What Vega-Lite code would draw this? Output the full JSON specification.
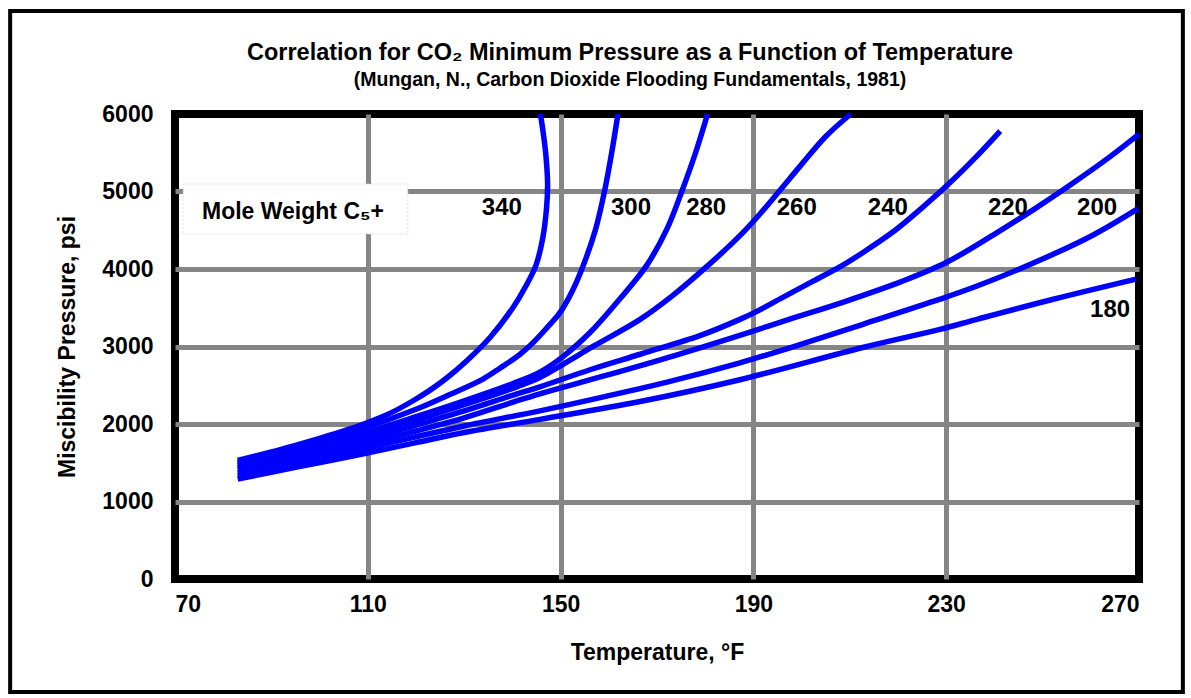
{
  "$schema": "https://vega.github.io/schema/vega-lite/v6.json",
  "width": 964,
  "height": 465,
  "autosize": "none",
  "padding": {"left": 175, "top": 114, "right": 52, "bottom": 119},
  "background": "white",
  "config": {
    "view": {"stroke": "black", "strokeWidth": 8},
    "font": "Liberation Sans, sans-serif"
  },
  "title": {
    "text": "Correlation for CO₂ Minimum Pressure as a Function of Temperature",
    "subtitle": "(Mungan, N., Carbon Dioxide Flooding Fundamentals, 1981)",
    "font": "Liberation Sans, sans-serif",
    "subtitleFont": "Liberation Sans, sans-serif",
    "fontSize": 23.5,
    "subtitleFontSize": 19.5,
    "fontWeight": "bold",
    "subtitleFontWeight": "bold",
    "color": "black",
    "subtitleColor": "black",
    "anchor": "middle",
    "dx": -27,
    "offset": -80,
    "subtitlePadding": 6
  },
  "datasets": {
    "curves": [
      {"mw": "340", "i": 1, "T": 83, "P": 1530}, {"mw": "340", "i": 2, "T": 90, "P": 1640}, {"mw": "340", "i": 3, "T": 95, "P": 1725}, {"mw": "340", "i": 4, "T": 100, "P": 1815}, {"mw": "340", "i": 5, "T": 105, "P": 1910}, {"mw": "340", "i": 6, "T": 110, "P": 2020}, {"mw": "340", "i": 7, "T": 115, "P": 2150}, {"mw": "340", "i": 8, "T": 119.4, "P": 2300}, {"mw": "340", "i": 9, "T": 123, "P": 2440}, {"mw": "340", "i": 10, "T": 126.5, "P": 2600}, {"mw": "340", "i": 11, "T": 130.6, "P": 2820}, {"mw": "340", "i": 12, "T": 135.4, "P": 3120}, {"mw": "340", "i": 13, "T": 140.1, "P": 3500}, {"mw": "340", "i": 14, "T": 142.8, "P": 3780}, {"mw": "340", "i": 15, "T": 144.9, "P": 4050}, {"mw": "340", "i": 16, "T": 146.3, "P": 4400}, {"mw": "340", "i": 17, "T": 147.1, "P": 4800}, {"mw": "340", "i": 18, "T": 147.3, "P": 5100}, {"mw": "340", "i": 19, "T": 146.9, "P": 5500}, {"mw": "340", "i": 20, "T": 146.3, "P": 5800}, {"mw": "340", "i": 21, "T": 145.8, "P": 6000},
      {"mw": "300", "i": 1, "T": 83, "P": 1500}, {"mw": "300", "i": 2, "T": 95, "P": 1690}, {"mw": "300", "i": 3, "T": 110, "P": 1965}, {"mw": "300", "i": 4, "T": 120, "P": 2190}, {"mw": "300", "i": 5, "T": 127, "P": 2380}, {"mw": "300", "i": 6, "T": 133.9, "P": 2580}, {"mw": "300", "i": 7, "T": 137.4, "P": 2720}, {"mw": "300", "i": 8, "T": 141.6, "P": 2900}, {"mw": "300", "i": 9, "T": 144.3, "P": 3050}, {"mw": "300", "i": 10, "T": 147, "P": 3230}, {"mw": "300", "i": 11, "T": 149.9, "P": 3440}, {"mw": "300", "i": 12, "T": 152.3, "P": 3700}, {"mw": "300", "i": 13, "T": 154.6, "P": 4030}, {"mw": "300", "i": 14, "T": 157.2, "P": 4500}, {"mw": "300", "i": 15, "T": 159.1, "P": 5000}, {"mw": "300", "i": 16, "T": 160.6, "P": 5500}, {"mw": "300", "i": 17, "T": 161.9, "P": 6000},
      {"mw": "280", "i": 1, "T": 83, "P": 1470}, {"mw": "280", "i": 2, "T": 95, "P": 1650}, {"mw": "280", "i": 3, "T": 110, "P": 1900}, {"mw": "280", "i": 4, "T": 120, "P": 2095}, {"mw": "280", "i": 5, "T": 130, "P": 2300}, {"mw": "280", "i": 6, "T": 140, "P": 2520}, {"mw": "280", "i": 7, "T": 145.7, "P": 2670}, {"mw": "280", "i": 8, "T": 150.5, "P": 2870}, {"mw": "280", "i": 9, "T": 156.1, "P": 3180}, {"mw": "280", "i": 10, "T": 161.7, "P": 3570}, {"mw": "280", "i": 11, "T": 164.8, "P": 3800}, {"mw": "280", "i": 12, "T": 167.9, "P": 4050}, {"mw": "280", "i": 13, "T": 172.1, "P": 4520}, {"mw": "280", "i": 14, "T": 175.2, "P": 5010}, {"mw": "280", "i": 15, "T": 178, "P": 5500}, {"mw": "280", "i": 16, "T": 180.5, "P": 6000},
      {"mw": "260", "i": 1, "T": 83, "P": 1440}, {"mw": "260", "i": 2, "T": 95, "P": 1610}, {"mw": "260", "i": 3, "T": 110, "P": 1855}, {"mw": "260", "i": 4, "T": 120, "P": 2050}, {"mw": "260", "i": 5, "T": 130, "P": 2250}, {"mw": "260", "i": 6, "T": 140, "P": 2460}, {"mw": "260", "i": 7, "T": 145.7, "P": 2600}, {"mw": "260", "i": 8, "T": 150.5, "P": 2770}, {"mw": "260", "i": 9, "T": 157, "P": 3010}, {"mw": "260", "i": 10, "T": 166.5, "P": 3350}, {"mw": "260", "i": 11, "T": 173.3, "P": 3660}, {"mw": "260", "i": 12, "T": 180.3, "P": 4030}, {"mw": "260", "i": 13, "T": 187.2, "P": 4430}, {"mw": "260", "i": 14, "T": 191.5, "P": 4720}, {"mw": "260", "i": 15, "T": 195.7, "P": 5030}, {"mw": "260", "i": 16, "T": 200, "P": 5350}, {"mw": "260", "i": 17, "T": 205, "P": 5710}, {"mw": "260", "i": 18, "T": 210.2, "P": 6000},
      {"mw": "240", "i": 1, "T": 83, "P": 1410}, {"mw": "240", "i": 2, "T": 95, "P": 1570}, {"mw": "240", "i": 3, "T": 110, "P": 1800}, {"mw": "240", "i": 4, "T": 120, "P": 1985}, {"mw": "240", "i": 5, "T": 130, "P": 2170}, {"mw": "240", "i": 6, "T": 140, "P": 2370}, {"mw": "240", "i": 7, "T": 145.7, "P": 2480}, {"mw": "240", "i": 8, "T": 156.1, "P": 2700}, {"mw": "240", "i": 9, "T": 166.5, "P": 2900}, {"mw": "240", "i": 10, "T": 178.9, "P": 3140}, {"mw": "240", "i": 11, "T": 187.2, "P": 3350}, {"mw": "240", "i": 12, "T": 190.3, "P": 3440}, {"mw": "240", "i": 13, "T": 196, "P": 3630}, {"mw": "240", "i": 14, "T": 202, "P": 3830}, {"mw": "240", "i": 15, "T": 208.3, "P": 4040}, {"mw": "240", "i": 16, "T": 212.9, "P": 4220}, {"mw": "240", "i": 17, "T": 219.2, "P": 4490}, {"mw": "240", "i": 18, "T": 224.8, "P": 4780}, {"mw": "240", "i": 19, "T": 230.2, "P": 5080}, {"mw": "240", "i": 20, "T": 236.4, "P": 5460}, {"mw": "240", "i": 21, "T": 241.2, "P": 5780},
      {"mw": "220", "i": 1, "T": 83, "P": 1370}, {"mw": "220", "i": 2, "T": 95, "P": 1530}, {"mw": "220", "i": 3, "T": 110, "P": 1745}, {"mw": "220", "i": 4, "T": 120, "P": 1910}, {"mw": "220", "i": 5, "T": 130, "P": 2080}, {"mw": "220", "i": 6, "T": 140, "P": 2280}, {"mw": "220", "i": 7, "T": 145.7, "P": 2390}, {"mw": "220", "i": 8, "T": 159.6, "P": 2630}, {"mw": "220", "i": 9, "T": 173.5, "P": 2880}, {"mw": "220", "i": 10, "T": 188, "P": 3160}, {"mw": "220", "i": 11, "T": 197.4, "P": 3350}, {"mw": "220", "i": 12, "T": 209, "P": 3580}, {"mw": "220", "i": 13, "T": 220.8, "P": 3840}, {"mw": "220", "i": 14, "T": 230.2, "P": 4090}, {"mw": "220", "i": 15, "T": 240.3, "P": 4460}, {"mw": "220", "i": 16, "T": 248.2, "P": 4770}, {"mw": "220", "i": 17, "T": 256.1, "P": 5100}, {"mw": "220", "i": 18, "T": 263.8, "P": 5440}, {"mw": "220", "i": 19, "T": 270, "P": 5740},
      {"mw": "200", "i": 1, "T": 83, "P": 1330}, {"mw": "200", "i": 2, "T": 95, "P": 1480}, {"mw": "200", "i": 3, "T": 110, "P": 1690}, {"mw": "200", "i": 4, "T": 120, "P": 1835}, {"mw": "200", "i": 5, "T": 130, "P": 1975}, {"mw": "200", "i": 6, "T": 145.7, "P": 2170}, {"mw": "200", "i": 7, "T": 159.6, "P": 2360}, {"mw": "200", "i": 8, "T": 173.3, "P": 2560}, {"mw": "200", "i": 9, "T": 187.2, "P": 2790}, {"mw": "200", "i": 10, "T": 197.4, "P": 2980}, {"mw": "200", "i": 11, "T": 212.9, "P": 3290}, {"mw": "200", "i": 12, "T": 228.7, "P": 3610}, {"mw": "200", "i": 13, "T": 236.4, "P": 3780}, {"mw": "200", "i": 14, "T": 248.2, "P": 4080}, {"mw": "200", "i": 15, "T": 259.9, "P": 4420}, {"mw": "200", "i": 16, "T": 269.8, "P": 4780},
      {"mw": "180", "i": 1, "T": 83, "P": 1290}, {"mw": "180", "i": 2, "T": 95, "P": 1440}, {"mw": "180", "i": 3, "T": 108.4, "P": 1605}, {"mw": "180", "i": 4, "T": 120, "P": 1760}, {"mw": "180", "i": 5, "T": 130, "P": 1890}, {"mw": "180", "i": 6, "T": 145.7, "P": 2060}, {"mw": "180", "i": 7, "T": 166.5, "P": 2290}, {"mw": "180", "i": 8, "T": 187.2, "P": 2571}, {"mw": "180", "i": 9, "T": 212.9, "P": 2990}, {"mw": "180", "i": 10, "T": 228.7, "P": 3221}, {"mw": "180", "i": 11, "T": 236.4, "P": 3351}, {"mw": "180", "i": 12, "T": 252.2, "P": 3610}, {"mw": "180", "i": 13, "T": 269.4, "P": 3870}
    ],
    "labels": [
      {"label": "340", "T": 137.8, "P": 4787},
      {"label": "300", "T": 164.6, "P": 4787},
      {"label": "280", "T": 180.2, "P": 4787},
      {"label": "260", "T": 199.0, "P": 4787},
      {"label": "240", "T": 217.9, "P": 4787},
      {"label": "220", "T": 242.8, "P": 4787},
      {"label": "200", "T": 261.3, "P": 4787},
      {"label": "180", "T": 264.0, "P": 3471}
    ],
    "legendbox": [
      {"T": 71.7, "T2": 118.3, "P": 4452, "P2": 5097, "text": "Mole Weight C₅+", "Tt": 75.6, "Pt": 4735}
    ],
    "frame": [
      {"T": 35.8, "T2": 279.1, "P": -1458, "P2": 7329}
    ]
  },
  "layer": [
    {
      "data": {"name": "curves"},
      "mark": {"type": "line", "strokeWidth": 5.5, "color": "#0000FF", "interpolate": "catmull-rom", "clip": false},
      "encoding": {
        "x": {
          "field": "T", "type": "quantitative",
          "scale": {"domain": [70, 270], "nice": false, "zero": false},
          "axis": {
            "values": [70, 110, 150, 190, 230, 270],
            "format": "d",
            "title": "Temperature, °F",
            "grid": true,
            "gridColor": {"condition": {"test": "datum.value === 70 || datum.value === 270", "value": "rgba(0,0,0,0)"}, "value": "#858585"},
            "gridWidth": 5,
            "domain": false,
            "ticks": false,
            "labelPadding": 14,
            "labelFontSize": 23,
            "labelFontWeight": "bold",
            "labelColor": "black",
            "labelFont": "Liberation Sans, sans-serif",
            "titleFont": "Liberation Sans, sans-serif",
            "titleFontSize": 23,
            "titleFontWeight": "bold",
            "titleColor": "black",
            "titlePadding": 25
          }
        },
        "y": {
          "field": "P", "type": "quantitative",
          "scale": {"domain": [0, 6000], "nice": false, "zero": false},
          "axis": {
            "values": [0, 1000, 2000, 3000, 4000, 5000, 6000],
            "format": "d",
            "title": "Miscibility Pressure, psi",
            "grid": true,
            "gridColor": {"condition": {"test": "datum.value === 0 || datum.value === 6000", "value": "rgba(0,0,0,0)"}, "value": "#858585"},
            "gridWidth": 5,
            "domain": false,
            "ticks": false,
            "labelPadding": 22,
            "labelFontSize": 23,
            "labelFontWeight": "bold",
            "labelColor": "black",
            "labelFont": "Liberation Sans, sans-serif",
            "titleFont": "Liberation Sans, sans-serif",
            "titleFontSize": 23,
            "titleFontWeight": "bold",
            "titleColor": "black",
            "titlePadding": 22
          }
        },
        "detail": {"field": "mw", "type": "nominal"},
        "order": {"field": "i", "type": "quantitative"}
      }
    },
    {
      "data": {"name": "legendbox"},
      "mark": {"type": "rect", "fill": "white", "stroke": "#dddddd", "strokeWidth": 1, "strokeDash": [2, 2]},
      "encoding": {
        "x": {"field": "T", "type": "quantitative"},
        "x2": {"field": "T2"},
        "y": {"field": "P", "type": "quantitative"},
        "y2": {"field": "P2"}
      }
    },
    {
      "data": {"name": "legendbox"},
      "mark": {"type": "text", "align": "left", "baseline": "middle", "fontSize": 23, "fontWeight": "bold", "font": "Liberation Sans, sans-serif", "color": "black"},
      "encoding": {
        "x": {"field": "Tt", "type": "quantitative"},
        "y": {"field": "Pt", "type": "quantitative"},
        "text": {"field": "text"}
      }
    },
    {
      "data": {"name": "labels"},
      "mark": {"type": "text", "align": "center", "baseline": "middle", "fontSize": 24, "fontWeight": "bold", "font": "Liberation Sans, sans-serif", "color": "black"},
      "encoding": {
        "x": {"field": "T", "type": "quantitative"},
        "y": {"field": "P", "type": "quantitative"},
        "text": {"field": "label"}
      }
    },
    {
      "data": {"name": "frame"},
      "mark": {"type": "rect", "fill": null, "fillOpacity": 0, "stroke": "black", "strokeWidth": 4, "clip": false},
      "encoding": {
        "x": {"field": "T", "type": "quantitative"},
        "x2": {"field": "T2"},
        "y": {"field": "P", "type": "quantitative"},
        "y2": {"field": "P2"}
      }
    }
  ]
}
